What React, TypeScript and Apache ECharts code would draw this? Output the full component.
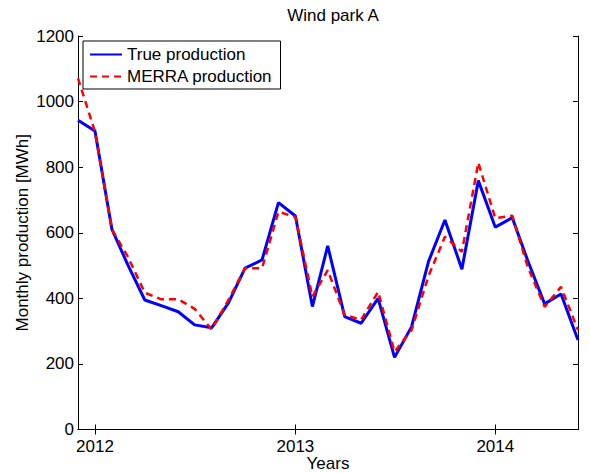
import React, { useEffect, useRef } from "react";
import * as echarts from "echarts";

const months = [
  "2011-12", "2012-01", "2012-02", "2012-03", "2012-04", "2012-05", "2012-06",
  "2012-07", "2012-08", "2012-09", "2012-10", "2012-11", "2012-12",
  "2013-01", "2013-02", "2013-03", "2013-04", "2013-05", "2013-06",
  "2013-07", "2013-08", "2013-09", "2013-10", "2013-11", "2013-12",
  "2014-01", "2014-02", "2014-03", "2014-04", "2014-05", "2014-06",
];

const trueProduction = [
  943, 910, 610, 502, 395, 378, 359, 319, 310, 387, 492, 517, 692,
  651, 375, 560, 344, 324, 400, 220, 313, 512, 639, 489, 759,
  617, 646, 516, 383, 413, 273,
];

const merraProduction = [
  1071, 908, 610, 527, 417, 397, 397, 368, 305, 396, 492, 492, 664,
  648, 405, 486, 349, 335, 420, 237, 303, 468, 588, 542, 814,
  644, 652, 497, 374, 435, 303,
];

const yearTicks = ["2012-01", "2013-01", "2014-01"];

const toTs = (m: string) => {
  const [y, mo] = m.split("-").map(Number);
  return Date.UTC(y, mo - 1, 1);
};

const FONT = "Liberation Sans, Arial, Helvetica, sans-serif";

export default function App() {
  const ref = useRef<HTMLDivElement>(null);
  useEffect(() => {
    if (!ref.current) return;
    const chart = echarts.init(ref.current, undefined, { renderer: "svg" });
    const xMin = toTs(months[0]);
    const xMax = toTs(months[months.length - 1]);
    const tickVals = yearTicks.map(toTs);
    const axisLine = { show: true, lineStyle: { color: "#000", width: 1 } };
    const fs = 17;
    chart.setOption({
      animation: false,
      backgroundColor: "#fff",
      textStyle: { fontFamily: FONT },
      title: {
        text: "Wind park A",
        left: 328,
        textAlign: "center",
        top: 2,
        textStyle: { fontSize: fs, fontWeight: "normal", color: "#000", fontFamily: FONT },
      },
      grid: {
        left: 78,
        right: 12,
        top: 36,
        bottom: 43.5,
        containLabel: false,
        outerBoundsMode: "none",
      },
      legend: {
        orient: "vertical",
        left: 83,
        top: 41,
        padding: [5, 8, 4, 6],
        itemGap: 5,
        itemWidth: 32,
        itemHeight: 16,
        borderColor: "#000",
        borderWidth: 1,
        backgroundColor: "#fff",
        itemStyle: { opacity: 0 },
        textStyle: { fontSize: fs, color: "#000", fontFamily: FONT, padding: [0, 0, 0, 0] },
        data: ["True production", "MERRA production"],
      },
      xAxis: [
        {
          type: "value",
          min: xMin,
          max: xMax,
          position: "bottom",
          name: "Years",
          nameLocation: "middle",
          nameGap: 25,
          nameMoveOverlap: false,
          nameTextStyle: { fontSize: fs, color: "#000", fontFamily: FONT },
          axisLine,
          axisTick: { show: true, inside: true, length: 5, customValues: tickVals, lineStyle: { color: "#000" } },
          axisLabel: {
            show: true,
            customValues: tickVals,
            margin: 8,
            fontSize: fs,
            color: "#000",
            fontFamily: FONT,
            formatter: (v: number) => String(new Date(v).getUTCFullYear()),
          },
          splitLine: { show: false },
        },
        {
          type: "value",
          min: xMin,
          max: xMax,
          position: "top",
          axisLine,
          axisTick: { show: true, inside: true, length: 5, customValues: tickVals, lineStyle: { color: "#000" } },
          axisLabel: { show: false },
          splitLine: { show: false },
        },
      ],
      yAxis: [
        {
          type: "value",
          min: 0,
          max: 1200,
          interval: 200,
          position: "left",
          name: "Monthly production [MWh]",
          nameLocation: "middle",
          nameGap: 47,
          nameMoveOverlap: false,
          nameTextStyle: { fontSize: fs, color: "#000", fontFamily: FONT },
          axisLine,
          axisTick: { show: true, inside: true, length: 5, lineStyle: { color: "#000" } },
          axisLabel: {
            margin: 4,
            fontSize: fs,
            color: "#000",
            fontFamily: FONT,
            formatter: (v: number) => String(v),
          },
          splitLine: { show: false },
        },
        {
          type: "value",
          min: 0,
          max: 1200,
          interval: 200,
          position: "right",
          axisLine,
          axisTick: { show: true, inside: true, length: 5, lineStyle: { color: "#000" } },
          axisLabel: { show: false },
          splitLine: { show: false },
        },
      ],
      series: [
        {
          name: "True production",
          type: "line",
          data: months.map((m, i) => [toTs(m), trueProduction[i]]),
          symbol: "none",
          lineStyle: { color: "#0000ff", width: 3 },
          itemStyle: { color: "#0000ff" },
          z: 2,
        },
        {
          name: "MERRA production",
          type: "line",
          data: months.map((m, i) => [toTs(m), merraProduction[i]]),
          symbol: "none",
          lineStyle: { color: "#ff0000", width: 2.5, type: [7, 5] },
          itemStyle: { color: "#ff0000" },
          z: 3,
        },
      ],
    });
    return () => chart.dispose();
  }, []);
  return (
    <div
      ref={ref}
      style={{ position: "fixed", left: 0, top: 0, width: 590, height: 473 }}
    />
  );
}
